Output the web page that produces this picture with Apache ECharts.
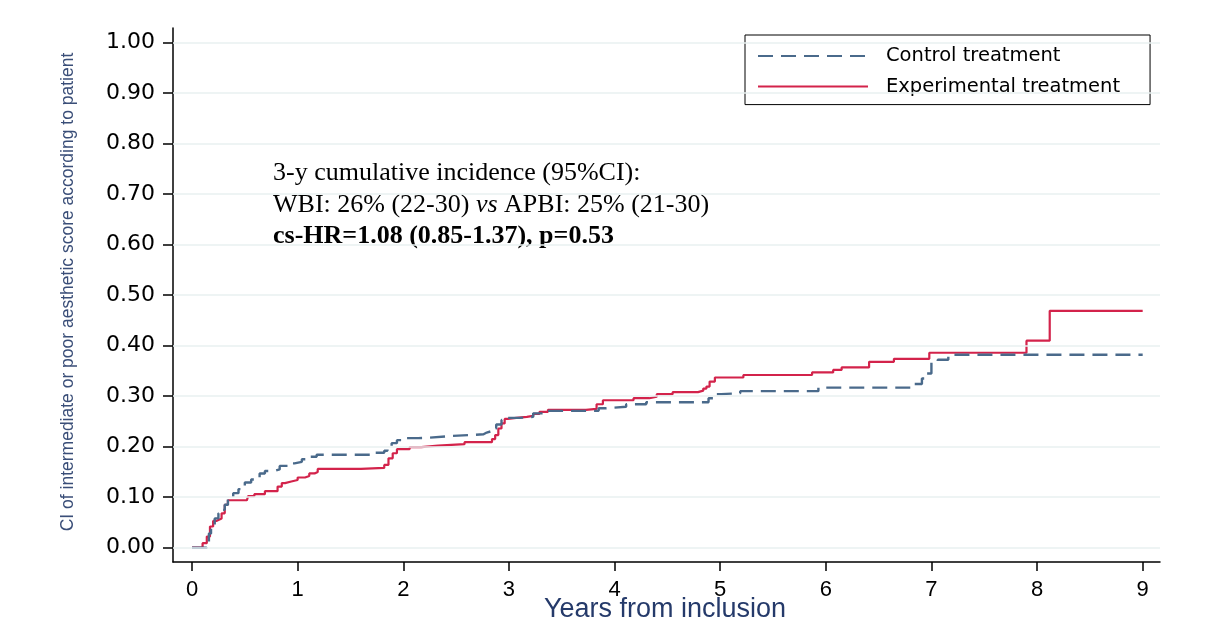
<!DOCTYPE html>
<html>
<head>
<meta charset="utf-8">
<script src="https://cdn.jsdelivr.net/npm/echarts@6/dist/echarts.min.js"></script>
<style>html,body{margin:0;padding:0;background:#fff}#c{width:1219px;height:621px}</style>
</head>
<body>
<div id="c"></div>
<script>
// Step-curve data (years from inclusion, cumulative incidence)
const ctrlYears = [0,0.10,0.14,0.16,0.18,0.215,0.25,0.28,0.31,0.34,0.39,0.44,0.50,0.56,0.64,0.69,0.78,0.83,0.91,0.97,1.04,1.11,1.18,1.70,1.82,1.85,1.89,1.94,1.98,2.14,2.25,2.44,2.76,2.79,2.84,2.88,2.93,2.98,3.10,3.23,3.36,3.85,3.92,4.11,4.30,4.89,4.95,5.01,5.19,5.93,6.81,6.91,6.94,7.00,7.06,7.16,9.0];
const ctrlValues = [0,0,0.009,0.028,0.042,0.058,0.068,0.075,0.085,0.098,0.108,0.116,0.129,0.135,0.147,0.152,0.155,0.162,0.167,0.170,0.175,0.180,0.184,0.188,0.192,0.198,0.207,0.213,0.217,0.218,0.221,0.2245,0.228,0.231,0.236,0.244,0.253,0.257,0.259,0.266,0.271,0.276,0.279,0.284,0.288,0.296,0.304,0.306,0.310,0.317,0.324,0.335,0.345,0.368,0.372,0.382,0.382];
const expYears = [0,0.06,0.10,0.14,0.17,0.20,0.23,0.26,0.28,0.31,0.34,0.52,0.53,0.59,0.69,0.81,0.85,0.88,0.94,1.00,1.07,1.11,1.16,1.19,1.60,1.82,1.86,1.90,1.94,2.06,2.17,2.33,2.58,2.84,2.87,2.90,2.93,2.96,2.99,3.07,3.17,3.23,3.29,3.37,3.73,3.83,3.89,4.18,4.33,4.40,4.55,4.79,4.84,4.87,4.90,4.95,5.22,5.87,6.07,6.15,6.41,6.645,6.98,7.90,8.12,9.0];
const expValues = [0,0,0.009,0.022,0.042,0.053,0.056,0.058,0.068,0.085,0.094,0.097,0.102,0.106,0.112,0.121,0.128,0.131,0.134,0.139,0.142,0.147,0.150,0.156,0.158,0.164,0.177,0.187,0.195,0.199,0.202,0.205,0.209,0.215,0.223,0.236,0.246,0.255,0.257,0.259,0.261,0.265,0.269,0.273,0.275,0.284,0.292,0.296,0.299,0.304,0.308,0.311,0.315,0.319,0.329,0.337,0.342,0.347,0.352,0.357,0.368,0.374,0.386,0.410,0.469,0.469];
const seriesNames = ['Control treatment', 'Experimental treatment'];
const xTicks = [0,1,2,3,4,5,6,7,8,9];
const yTicks = [0,0.1,0.2,0.3,0.4,0.5,0.6,0.7,0.8,0.9,1.0];
const xTitle = 'Years from inclusion';
const yTitle = 'CI of intermediate or poor aesthetic score according to patient';
const noteLine1 = '3-y cumulative incidence (95%CI):';
const noteLine2a = 'WBI: 26% (22-30) ';
const noteLine2b = 'vs';
const noteLine2c = ' APBI: 25% (21-30)';
const noteLine3 = 'cs-HR=1.08 (0.85-1.37), p=0.53';

const pair = (xs, ys) => xs.map((x, i) => [x, ys[i]]);
const chart = echarts.init(document.getElementById('c'), null, {renderer: 'canvas'});
const RED = '#d3234b', BLUE = '#4a6a8b';
chart.setOption({
  animation: false,
  backgroundColor: '#fff',
  grid: {left: 173, top: 28, right: 59, bottom: 59, containLabel: false},
  xAxis: {
    type: 'value', min: -0.18, max: 9.164,
    axisLine: {show: true, onZero: false, lineStyle: {color: '#000', width: 1.5}},
    axisTick: {show: true, length: 9, lineStyle: {color: '#000', width: 1.5}, customValues: xTicks},
    axisLabel: {customValues: xTicks, margin: 17, color: '#000', fontFamily: 'Liberation Sans', fontSize: 22, formatter: v => String(v)},
    splitLine: {show: false}
  },
  yAxis: {
    type: 'value', min: -0.0283, max: 1.029,
    axisLine: {show: true, onZero: false, lineStyle: {color: '#000', width: 1.5}},
    axisTick: {show: true, length: 10, lineStyle: {color: '#000', width: 1.5}, customValues: yTicks},
    axisLabel: {customValues: yTicks, margin: 18, color: '#000', fontFamily: 'DejaVu Sans', fontSize: 22, formatter: v => v.toFixed(2)},
    splitLine: {show: false}
  },
  legend: {
    left: 745, top: 35, orient: 'vertical',
    padding: [11, 30, 8, 12], itemGap: 10.6, itemWidth: 110, itemHeight: 14,
    borderColor: '#000', borderWidth: 1, borderRadius: 0,
    itemStyle: {opacity: 0},
    textStyle: {fontFamily: 'DejaVu Sans', fontSize: 19.5, color: '#000', lineHeight: 20, padding: [0, 0, 0, 13]},
    data: seriesNames
  },
  series: [
    {
      name: '__grid', type: 'line', data: [], silent: true, z: 1,
      markLine: {
        silent: true, symbol: 'none', label: {show: false},
        lineStyle: {color: '#e9f0f0', width: 1.5, type: 'solid'},
        data: yTicks.map(v => ({yAxis: v}))
      }
    },
    {
      name: seriesNames[1], type: 'line', step: 'end', symbol: 'none', showSymbol: false, z: 3,
      data: pair(expYears, expValues),
      lineStyle: {color: RED, width: 2.2}, itemStyle: {color: RED}
    },
    {
      name: seriesNames[0], type: 'line', step: 'end', symbol: 'none', showSymbol: false, z: 4,
      data: pair(ctrlYears, ctrlValues),
      lineStyle: {color: BLUE, width: 2.4, type: [15, 8]}, itemStyle: {color: BLUE}
    }
  ],
  graphic: [
    {type: 'text', x: 665, y: 610, style: {text: xTitle, fill: '#253a6a', font: '27px "Liberation Sans"', textAlign: 'center', textVerticalAlign: 'middle'}},
    {type: 'text', x: 68, y: 292, rotation: Math.PI / 2, style: {text: yTitle, fill: '#3a4e78', font: '17.5px "Liberation Sans"', textAlign: 'center', textVerticalAlign: 'middle'}},
    {type: 'text', x: 273, y: 173, style: {text: noteLine1, fill: '#000', font: '26px "Liberation Serif"', textAlign: 'left', textVerticalAlign: 'middle'}},
    {type: 'text', x: 273, y: 205, style: {
      text: '{a|' + noteLine2a + '}{b|' + noteLine2b + '}{a|' + noteLine2c + '}',
      textAlign: 'left', textVerticalAlign: 'middle',
      rich: {a: {font: '26px "Liberation Serif"', fill: '#000'}, b: {font: 'italic 26px "Liberation Serif"', fill: '#000'}}
    }},
    {type: 'text', x: 273, y: 236, style: {text: noteLine3, fill: '#000', font: 'bold 26px "Liberation Serif"', textAlign: 'left', textVerticalAlign: 'middle'}}
  ]
});
</script>
</body>
</html>
